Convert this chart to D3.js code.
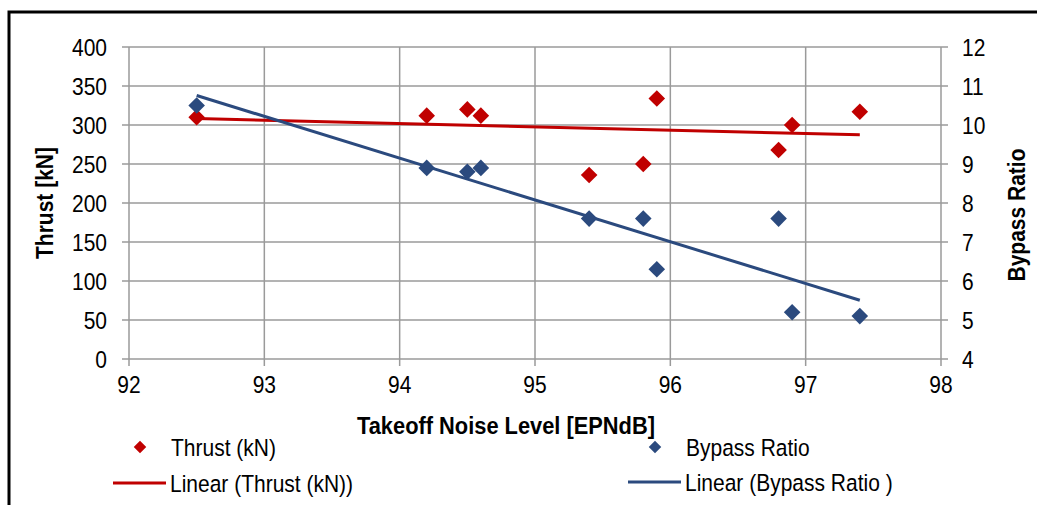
<!DOCTYPE html>
<html>
<head>
<meta charset="utf-8">
<script src="https://cdn.jsdelivr.net/npm/d3@7"></script>
<style>
  body { margin: 0; background: #fff; }
  text { font-family: "Liberation Sans", Arial, sans-serif; fill: #000; }
</style>
</head>
<body>
<div id="chart"></div>
<script>
// takeoff noise level, EPNdB
const noise = [92.5, 94.2, 94.5, 94.6, 95.4, 95.8, 95.9, 96.8, 96.9, 97.4];
// thrust, kN
const thrust = [310, 312, 320, 312, 236, 250, 334, 268, 300, 317];
// bypass ratio
const bypass = [10.5, 8.9, 8.8, 8.9, 7.6, 7.6, 6.3, 7.6, 5.2, 5.1];

const xTicks = [92, 93, 94, 95, 96, 97, 98];
const thrustTicks = [0, 50, 100, 150, 200, 250, 300, 350, 400];
const bypassTicks = [4, 5, 6, 7, 8, 9, 10, 11, 12];

const red = '#C00000';
const blue = '#2B4A7E';

const width = 1037, height = 505;
const plot = { left: 129, right: 941, top: 47, bottom: 359 };
// text in the source image is a little taller than it is wide
const stretch = 'scale(1,1.18)';

// least squares fit, like Excel's linear trendline
function linearFit(xs, ys) {
    const n = xs.length;
    const mx = d3.mean(xs), my = d3.mean(ys);
    let sxy = 0, sxx = 0;
    for (let i = 0; i < n; i++) {
        sxy += (xs[i] - mx) * (ys[i] - my);
        sxx += (xs[i] - mx) * (xs[i] - mx);
    }
    const slope = sxy / sxx;
    return x => my + slope * (x - mx);
}

const svg = d3.select('#chart').append('svg')
    .attr('width', width)
    .attr('height', height);

// frame
svg.append('path')
    .attr('d', `M9,${height} V12 H${width}`)
    .attr('fill', 'none')
    .attr('stroke', '#000')
    .attr('stroke-width', 3);

const x = d3.scaleLinear().domain([92, 98]).range([plot.left, plot.right]);
const yL = d3.scaleLinear().domain([0, 400]).range([plot.bottom, plot.top]);
const yR = d3.scaleLinear().domain([4, 12]).range([plot.bottom, plot.top]);

// grid
const grid = svg.append('g').attr('stroke', '#9a9a9a').attr('stroke-width', 1.5);
grid.selectAll('.h').data(thrustTicks).enter().append('line')
    .attr('x1', plot.left - 7).attr('x2', plot.right + 7)
    .attr('y1', d => yL(d)).attr('y2', d => yL(d));
grid.selectAll('.v').data(xTicks).enter().append('line')
    .attr('x1', d => x(d)).attr('x2', d => x(d))
    .attr('y1', plot.top).attr('y2', plot.bottom + 7);

// axis labels
const tickSize = 21;
svg.append('g').selectAll('text').data(thrustTicks).enter().append('text')
    .attr('transform', d => `translate(107,${yL(d) + 9}) ${stretch}`)
    .attr('text-anchor', 'end')
    .attr('font-size', tickSize)
    .text(d => d);
svg.append('g').selectAll('text').data(bypassTicks).enter().append('text')
    .attr('transform', d => `translate(962,${yR(d) + 9}) ${stretch}`)
    .attr('font-size', tickSize)
    .text(d => d);
svg.append('g').selectAll('text').data(xTicks).enter().append('text')
    .attr('transform', d => `translate(${x(d)},393) ${stretch}`)
    .attr('text-anchor', 'middle')
    .attr('font-size', tickSize)
    .text(d => d);

// axis titles
svg.append('text')
    .attr('transform', `translate(506,434) scale(1.04,1.18)`)
    .attr('text-anchor', 'middle')
    .attr('font-size', 21).attr('font-weight', 'bold')
    .text('Takeoff Noise Level [EPNdB]');
svg.append('text')
    .attr('transform', `translate(53,${(plot.top + plot.bottom) / 2}) rotate(-90) ${stretch}`)
    .attr('text-anchor', 'middle')
    .attr('font-size', 21).attr('font-weight', 'bold')
    .text('Thrust [kN]');
svg.append('text')
    .attr('transform', `translate(1025,${(plot.top + plot.bottom) / 2 + 12}) rotate(-90) ${stretch}`)
    .attr('text-anchor', 'middle')
    .attr('font-size', 21).attr('font-weight', 'bold')
    .text('Bypass Ratio');

// trendlines
const xr = d3.extent(noise);
const fitT = linearFit(noise, thrust);
const fitB = linearFit(noise, bypass);
const line = d3.line();
svg.append('path')
    .attr('d', line(xr.map(v => [x(v), yL(fitT(v))])))
    .attr('stroke', red).attr('stroke-width', 3).attr('fill', 'none');
svg.append('path')
    .attr('d', line(xr.map(v => [x(v), yR(fitB(v))])))
    .attr('stroke', blue).attr('stroke-width', 3).attr('fill', 'none');

// markers
const diamond = d3.symbol().type(d3.symbolDiamond2).size(175);
svg.append('g').selectAll('path').data(noise).enter().append('path')
    .attr('d', diamond)
    .attr('transform', (d, i) => `translate(${x(d)},${yL(thrust[i])})`)
    .attr('fill', red);
svg.append('g').selectAll('path').data(noise).enter().append('path')
    .attr('d', diamond)
    .attr('transform', (d, i) => `translate(${x(d)},${yR(bypass[i])})`)
    .attr('fill', blue);

// legend
const legend = [
    { label: 'Thrust (kN)', color: red, kind: 'marker', x: 140, y: 447 },
    { label: 'Bypass Ratio', color: blue, kind: 'marker', x: 655, y: 447 },
    { label: 'Linear (Thrust (kN))', color: red, kind: 'line', x: 113, y: 483 },
    { label: 'Linear (Bypass Ratio )', color: blue, kind: 'line', x: 628, y: 482 }
];
const lg = svg.append('g').selectAll('g').data(legend).enter().append('g')
    .attr('transform', d => `translate(${d.x},${d.y})`);
lg.filter(d => d.kind === 'marker').append('path')
    .attr('d', d3.symbol().type(d3.symbolDiamond2).size(100))
    .attr('fill', d => d.color);
lg.filter(d => d.kind === 'line').append('line')
    .attr('x1', 0).attr('x2', 53)
    .attr('stroke', d => d.color).attr('stroke-width', 3);
lg.append('text')
    .attr('transform', d => `translate(${d.kind === 'marker' ? 31 : 57},9) ${stretch}`)
    .attr('font-size', 21)
    .text(d => d.label);
</script>
</body>
</html>
